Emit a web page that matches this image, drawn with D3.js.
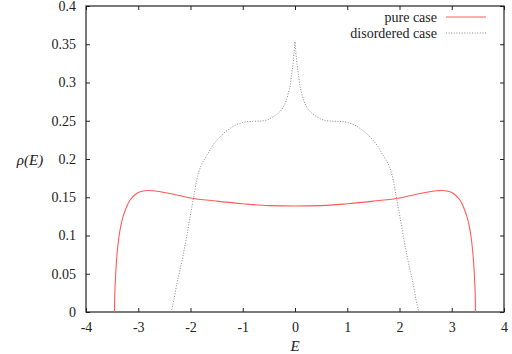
<!DOCTYPE html>
<html>
<head>
<meta charset="utf-8">
<script src="https://cdn.jsdelivr.net/npm/d3@7"></script>
<style>
  body { margin: 0; background: #fff; }
</style>
</head>
<body>
<div class="visiHolder"></div>
<script>
const xTicks = [-4, -3, -2, -1, 0, 1, 2, 3, 4];
const yTicks = [0, 0.05, 0.1, 0.15, 0.2, 0.25, 0.3, 0.35, 0.4];

const pureE = [-3.455, -3.45, -3.44, -3.425, -3.40, -3.37, -3.33, -3.28, -3.22, -3.15, -3.05, -2.95,
  -2.8, -2.6, -2.4, -2.2, -2.0, -1.5, -1.0, -0.5, 0, 0.5, 1.0, 1.5, 2.0, 2.2, 2.4, 2.6, 2.8,
  2.95, 3.05, 3.15, 3.22, 3.28, 3.33, 3.37, 3.40, 3.425, 3.44, 3.45, 3.455];
const pureRho = [0, 0.02, 0.038, 0.058, 0.08, 0.098, 0.114, 0.127, 0.138, 0.147, 0.154, 0.1575,
  0.1588, 0.1575, 0.155, 0.152, 0.149, 0.145, 0.1415, 0.139, 0.1385, 0.139, 0.1415, 0.145, 0.149,
  0.152, 0.155, 0.1575, 0.1588, 0.1575, 0.154, 0.147, 0.138, 0.127, 0.114, 0.098, 0.08, 0.058,
  0.038, 0.02, 0];

const disE = [-2.37, -2.32, -2.26, -2.2, -2.135, -2.07, -2.008, -1.94, -1.88, -1.85, -1.8, -1.72,
  -1.65, -1.59, -1.5, -1.434, -1.34, -1.243, -1.15, -1.05, -0.92, -0.8, -0.65, -0.5, -0.415,
  -0.32, -0.224, -0.17, -0.128, -0.09, -0.063, -0.04, -0.019, -0.008, 0,
  0.008, 0.019, 0.04, 0.063, 0.09, 0.128, 0.17, 0.224, 0.32, 0.415, 0.5, 0.65, 0.8, 0.92, 1.05,
  1.15, 1.243, 1.34, 1.434, 1.5, 1.59, 1.65, 1.72, 1.8, 1.85, 1.88, 1.94, 2.008, 2.07, 2.135,
  2.2, 2.26, 2.32, 2.37];
const disRho = [0, 0.015, 0.0375, 0.055, 0.0767, 0.1, 0.1246, 0.15, 0.1725, 0.181, 0.191, 0.201,
  0.209, 0.216, 0.224, 0.229, 0.235, 0.24, 0.244, 0.2467, 0.2488, 0.2492, 0.2497, 0.252, 0.2553,
  0.26, 0.268, 0.276, 0.286, 0.297, 0.312, 0.323, 0.338, 0.347, 0.3535,
  0.347, 0.338, 0.323, 0.312, 0.297, 0.286, 0.276, 0.268, 0.26, 0.2553, 0.252, 0.2497, 0.2492,
  0.2488, 0.2467, 0.244, 0.24, 0.235, 0.229, 0.224, 0.216, 0.209, 0.201, 0.191, 0.181, 0.1725,
  0.15, 0.1246, 0.1, 0.0767, 0.055, 0.0375, 0.015, 0];

const seriesNames = ["pure case", "disordered case"];

const width = 512;
const height = 354;
const margin = { left: 86, right: 8, top: 6, bottom: 42 };
const serif = "Liberation Serif";

const svg = d3
  .select(".visiHolder")
  .append("svg")
  .attr("width", width)
  .attr("height", height);

const xScale = d3.scaleLinear().domain([-4, 4]).range([margin.left, width - margin.right]);
const yScale = d3.scaleLinear().domain([0, 0.4]).range([height - margin.bottom, margin.top]);

// ticks on all four sides, pointing inward like gnuplot
const tickLen = 4;
svg.append("g")
  .attr("transform", `translate(0, ${height - margin.bottom})`)
  .call(d3.axisBottom(xScale).tickValues(xTicks).tickSizeInner(-tickLen).tickSizeOuter(0).tickPadding(10).tickFormat(String))
  .call((g) => g.select(".domain").remove());
svg.append("g")
  .attr("transform", `translate(0, ${margin.top})`)
  .call(d3.axisTop(xScale).tickValues(xTicks).tickSizeInner(-tickLen).tickSizeOuter(0).tickFormat(""))
  .call((g) => g.select(".domain").remove());
svg.append("g")
  .attr("transform", `translate(${margin.left}, 0)`)
  .call(d3.axisLeft(yScale).tickValues(yTicks).tickSizeInner(-tickLen).tickSizeOuter(0).tickPadding(10).tickFormat(String))
  .call((g) => g.select(".domain").remove());
svg.append("g")
  .attr("transform", `translate(${width - margin.right}, 0)`)
  .call(d3.axisRight(yScale).tickValues(yTicks).tickSizeInner(-tickLen).tickSizeOuter(0).tickFormat(""))
  .call((g) => g.select(".domain").remove());

svg.selectAll("g").attr("font-family", serif);
svg.selectAll(".tick line").attr("stroke", "#222");
svg.selectAll(".tick text")
  .attr("font-family", serif)
  .attr("font-size", 14)
  .attr("fill", "#222");

svg.append("rect")
  .attr("x", margin.left)
  .attr("y", margin.top)
  .attr("width", width - margin.left - margin.right)
  .attr("height", height - margin.top - margin.bottom)
  .attr("fill", "none")
  .attr("stroke", "#222")
  .attr("stroke-width", 1.2);

const line = d3.line()
  .x((d) => xScale(d[0]))
  .y((d) => yScale(d[1]))
  .curve(d3.curveMonotoneX);

svg.append("path")
  .datum(pureE.map((e, i) => [e, pureRho[i]]))
  .attr("d", line)
  .attr("fill", "none")
  .attr("stroke", "#ff5a5a")
  .attr("stroke-width", 1.1);

svg.append("path")
  .datum(disE.map((e, i) => [e, disRho[i]]))
  .attr("d", line)
  .attr("fill", "none")
  .attr("stroke", "#888")
  .attr("stroke-width", 1)
  .attr("stroke-dasharray", "1,1.6");

// legend
const legend = svg.append("g");
const styles = [
  { stroke: "#ff5a5a", dash: null },
  { stroke: "#888", dash: "1,1.6" }
];
seriesNames.forEach((name, i) => {
  const y = 17 + i * 16;
  legend.append("text")
    .attr("x", 437)
    .attr("y", y)
    .attr("dy", "0.35em")
    .attr("text-anchor", "end")
    .attr("font-size", 14)
    .attr("fill", "#222")
    .attr("font-family", serif)
    .text(name);
  legend.append("line")
    .attr("x1", 446)
    .attr("x2", 486)
    .attr("y1", y)
    .attr("y2", y)
    .attr("stroke", styles[i].stroke)
    .attr("stroke-width", 1)
    .attr("stroke-dasharray", styles[i].dash);
});

svg.append("text")
  .attr("x", xScale(0))
  .attr("y", 351)
  .attr("text-anchor", "middle")
  .attr("font-size", 15)
  .attr("font-style", "italic")
  .attr("fill", "#222")
  .attr("font-family", serif)
  .text("E");

svg.append("text")
  .attr("x", 30)
  .attr("y", 160)
  .attr("dy", "0.35em")
  .attr("text-anchor", "middle")
  .attr("font-size", 15)
  .attr("font-style", "italic")
  .attr("fill", "#222")
  .attr("font-family", serif)
  .text("ρ(E)");
</script>
</body>
</html>
